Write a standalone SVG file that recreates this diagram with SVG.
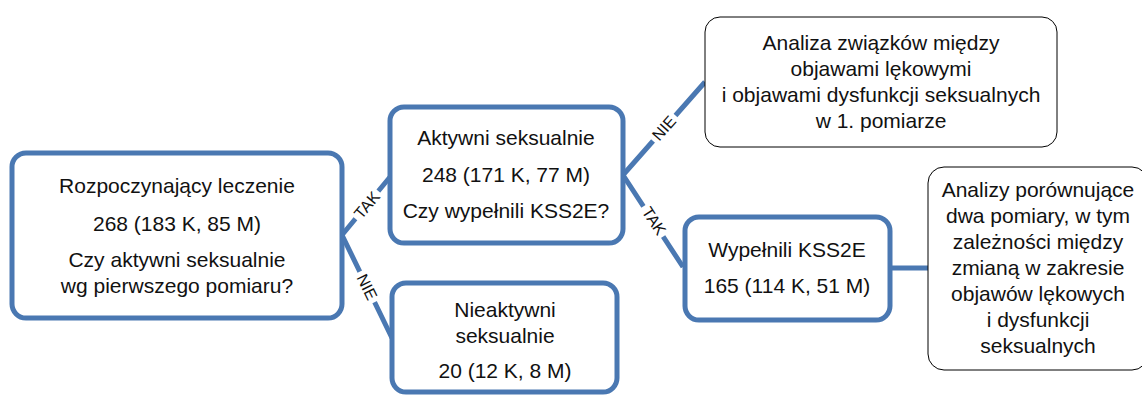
<svg xmlns="http://www.w3.org/2000/svg" width="1142" height="395" viewBox="0 0 1142 395">
<style>
.bn{fill:#fff;stroke:#4A78B2;stroke-width:5}
.tn{fill:#fff;stroke:#000;stroke-width:1}
.t{font-family:"Liberation Sans",Arial,sans-serif;font-size:21px;fill:#111;text-anchor:middle}
.c{stroke:#4A78B2;stroke-width:5;fill:none}
.lb{font-family:"Liberation Sans",Arial,sans-serif;font-size:16px;fill:#111;text-anchor:middle;dominant-baseline:central}
.gap{fill:#fff}
</style>
<rect width="1142" height="395" fill="#fff"/>
<g id="connectors">
<path class="c" d="M390,177 L342,235 L392,338"/>
<path class="c" d="M705,82 L623,175 L683,267"/>
<path class="c" d="M890,268 L928,268"/>
<g transform="translate(367,205) rotate(-50)"><rect class="gap" x="-18" y="-9" width="36" height="18"/><text class="lb" x="0" y="0">TAK</text></g>
<g transform="translate(367,287) rotate(64)"><rect class="gap" x="-17" y="-9" width="34" height="18"/><text class="lb" x="0" y="0">NIE</text></g>
<g transform="translate(664,128) rotate(-48.6)"><rect class="gap" x="-17" y="-9" width="34" height="18"/><text class="lb" x="0" y="0">NIE</text></g>
<g transform="translate(654,221) rotate(57)"><rect class="gap" x="-18" y="-9" width="36" height="18"/><text class="lb" x="0" y="0">TAK</text></g>
</g>
<g id="n1">
<rect class="bn" x="12" y="153" width="330" height="165" rx="14"/>
<text class="t" x="177" y="193">Rozpoczynający leczenie</text>
<text class="t" x="177" y="231">268 (183 K, 85 M)</text>
<text class="t" x="177" y="267">Czy aktywni seksualnie</text>
<text class="t" x="177" y="293">wg pierwszego pomiaru?</text>
</g>
<g id="n2">
<rect class="bn" x="390" y="107" width="233" height="136" rx="14"/>
<text class="t" x="506" y="145">Aktywni seksualnie</text>
<text class="t" x="506" y="182">248 (171 K, 77 M)</text>
<text class="t" x="506" y="218">Czy wypełnili KSS2E?</text>
</g>
<g id="n3">
<rect class="bn" x="392" y="283" width="225" height="109" rx="14"/>
<text class="t" x="505" y="317">Nieaktywni</text>
<text class="t" x="505" y="343">seksualnie</text>
<text class="t" x="505" y="378">20 (12 K, 8 M)</text>
</g>
<g id="n4">
<rect class="tn" x="705" y="17" width="352" height="130" rx="15"/>
<text class="t" x="881" y="50">Analiza związków między</text>
<text class="t" x="881" y="76">objawami lękowymi</text>
<text class="t" x="881" y="102">i objawami dysfunkcji seksualnych</text>
<text class="t" x="881" y="128">w 1. pomiarze</text>
</g>
<g id="n5">
<rect class="bn" x="685" y="217" width="205" height="103" rx="14"/>
<text class="t" x="787" y="257">Wypełnili KSS2E</text>
<text class="t" x="787" y="293">165 (114 K, 51 M)</text>
</g>
<g id="n6">
<rect class="tn" x="928" y="167" width="220" height="203" rx="16"/>
<text class="t" x="1038" y="197">Analizy porównujące</text>
<text class="t" x="1038" y="223">dwa pomiary, w tym</text>
<text class="t" x="1038" y="249">zależności między</text>
<text class="t" x="1038" y="275">zmianą w zakresie</text>
<text class="t" x="1038" y="301">objawów lękowych</text>
<text class="t" x="1038" y="327">i dysfunkcji</text>
<text class="t" x="1038" y="353">seksualnych</text>
</g>
</svg>
